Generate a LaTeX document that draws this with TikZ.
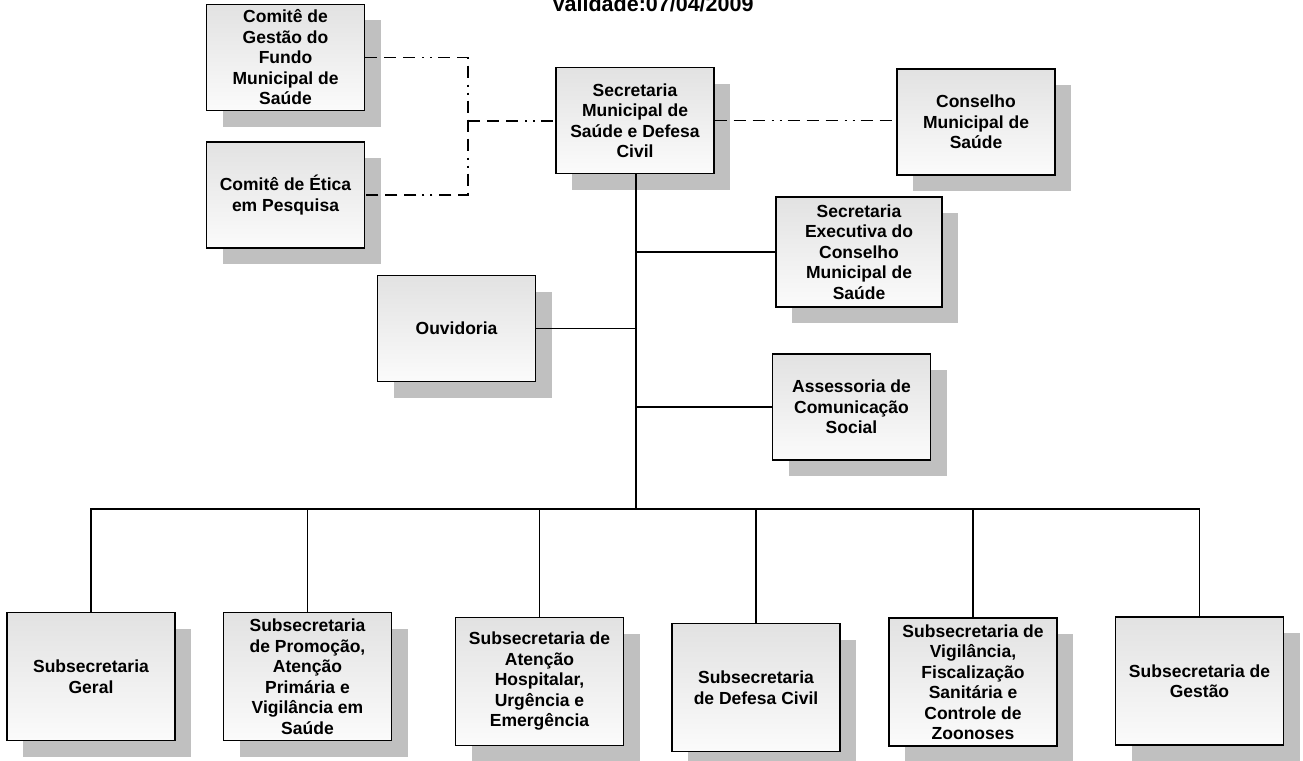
\documentclass[tikz,border=0pt]{standalone}
\usepackage{fontspec}
\setmainfont{Liberation Sans}
\usepackage{tikz}
\usetikzlibrary{shadows,calc}
\definecolor{cTop}{RGB}{226,226,226}
\definecolor{cBot}{RGB}{251,251,251}
\definecolor{cShd}{RGB}{192,192,192}

\begin{document}
\begin{tikzpicture}[
  x=1pt,y=-1pt,
  unit/.style={draw,line width=1.4pt,top color=cTop,bottom color=cBot,inner sep=0pt,
               minimum width=158pt,minimum height=106pt,align=center,
               font=\fontsize{17.5}{20.5}\selectfont\bfseries,
               drop shadow={shadow xshift=16pt,shadow yshift=-16pt,fill=cShd,opacity=1}},
  sub/.style={unit,minimum width=168pt,minimum height=128pt},
  link/.style={line width=1.1pt},
  trunk/.style={line width=1.9pt},
  advis/.style={line width=1.1pt,dash pattern=on 12pt off 7pt on 12pt off 7pt on 12pt off 7pt
                on 2pt off 6pt on 2pt off 6pt},
]
\useasboundingbox (0,0) rectangle (1303,760);

\node[font=\fontsize{21.5}{24}\selectfont\bfseries,anchor=base] (title) at (652.5,11.5)
  {Validade:07/04/2009};

\node[unit] (fundo) at (285.5,57.5) {Comitê de\\Gestão do\\Fundo\\Municipal de\\Saúde};
\node[unit] (etica) at (285.5,195) {Comitê de Ética\\em Pesquisa};
\node[unit] (sec)   at (635,120.5) {Secretaria\\Municipal de\\Saúde e Defesa\\Civil};
\node[unit] (cms)   at (976,122) {Conselho\\Municipal de\\Saúde};
\node[unit,minimum width=166pt,minimum height=110pt] (exec) at (859,252)
  {Secretaria\\Executiva do\\Conselho\\Municipal de\\Saúde};
\node[unit] (ouv)   at (456.5,328.5) {Ouvidoria};
\node[unit] (ascom) at (851.5,407) {Assessoria de\\Comunicação\\Social};

\node[sub] (geral)  at (91,676.5)    {Subsecretaria\\Geral};
\node[sub] (prom)   at (307.5,676.5) {Subsecretaria\\de Promoção,\\Atenção\\Primária e\\Vigilância em\\Saúde};
\node[sub] (hosp)   at (539.5,681.5) {Subsecretaria de\\Atenção\\Hospitalar,\\Urgência e\\Emergência};
\node[sub] (defesa) at (756,687.5)   {Subsecretaria\\de Defesa Civil};
\node[sub] (vigil)  at (973,682)     {Subsecretaria de\\Vigilância,\\Fiscalização\\Sanitária e\\Controle de\\Zoonoses};
\node[sub] (gestao) at (1199.5,681)  {Subsecretaria de\\Gestão};

\coordinate (jn)  at (468,121);
\coordinate (bus) at (636,509);

\draw[advis] (fundo.east) -| (jn) |- (etica.east);
\draw[advis] (jn) -- (jn -| sec.west);
\draw[advis] (sec.east) -- (sec.east -| cms.west);

\draw[trunk] (sec.south -| bus) -- (bus);
\draw[link] (bus |- exec.west) -- (exec.west);
\draw[link] (bus |- ouv.east) -- (ouv.east);
\draw[link] (bus |- ascom.west) -- (ascom.west);
\foreach \n in {geral,prom,hosp,defesa,vigil,gestao}
  \draw[link] (bus) -| (\n.north);
\end{tikzpicture}
\end{document}
